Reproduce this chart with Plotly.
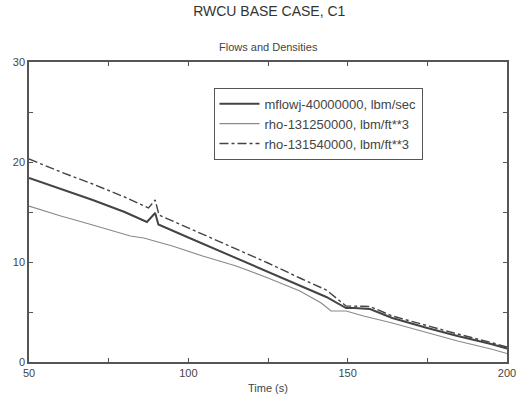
import plotly.graph_objects as go

# Data
t_flow = [50, 60, 70, 80, 87, 89.6, 90.6, 100, 115, 125, 135, 143.3, 149.5, 152, 157, 164, 175, 184.5, 195, 200]
mflow = [18.4, 17.3, 16.2, 15.0, 14.0, 14.9, 13.75, 12.45, 10.4, 9.0, 7.6, 6.5, 5.4, 5.4, 5.3, 4.4, 3.4, 2.6, 1.8, 1.35]

t_rho1 = [50, 60, 70, 81.8, 86, 95, 104.5, 115, 125, 135, 141.7, 144.8, 149.5, 155, 164, 175, 184.5, 195, 200]
rho1 = [15.6, 14.6, 13.7, 12.6, 12.4, 11.6, 10.6, 9.6, 8.4, 7.1, 5.9, 5.1, 5.1, 4.6, 3.9, 2.9, 2.1, 1.3, 0.85]

t_rho2 = [50, 60, 70, 80, 87.5, 89.6, 90.8, 100, 115, 125, 135, 143.3, 149.5, 152, 157, 164, 175, 184.5, 195, 200]
rho2 = [20.3, 19.0, 17.8, 16.5, 15.4, 16.2, 14.7, 13.4, 11.3, 9.9, 8.4, 7.2, 5.6, 5.6, 5.55, 4.6, 3.6, 2.8, 1.95, 1.5]

names = ["mflowj-40000000, lbm/sec", "rho-131250000, lbm/ft**3", "rho-131540000, lbm/ft**3"]

FONT = "Liberation Sans, Arial"

fig = go.Figure()
fig.add_trace(go.Scatter(x=t_flow, y=mflow, mode="lines", name=names[0],
                         line=dict(color="#444", width=2)))
fig.add_trace(go.Scatter(x=t_rho1, y=rho1, mode="lines", name=names[1],
                         line=dict(color="#8a8a8a", width=1.2)))
fig.add_trace(go.Scatter(x=t_rho2, y=rho2, mode="lines", name=names[2],
                         line=dict(color="#444", width=1.4, dash="dashdot")))

axis_common = dict(showline=True, linecolor="#555", linewidth=1.5, mirror="ticks",
                   ticks="inside", ticklen=4, tickcolor="#555", showgrid=False,
                   zeroline=False, tickfont=dict(family=FONT, size=11, color="#444"))

fig.update_layout(
    width=528, height=405,
    margin=dict(l=29, r=15, t=62, b=39),
    paper_bgcolor="white", plot_bgcolor="white",
    title=dict(text="RWCU BASE CASE, C1", x=0.51, xanchor="center", y=0.985, yanchor="top",
               font=dict(family=FONT, size=14, color="#333")),
    annotations=[dict(text="Flows and Densities", xref="paper", yref="paper", x=0.5, y=1.025,
                      xanchor="center", yanchor="bottom", showarrow=False,
                      font=dict(family=FONT, size=11, color="#444"))],
    legend=dict(x=0.386, y=0.914, xanchor="left", yanchor="top",
                bgcolor="white", bordercolor="#555", borderwidth=1,
                font=dict(family=FONT, size=13, color="#444"),
                tracegroupgap=0, itemwidth=40),
    showlegend=True,
)
fig.update_xaxes(range=[50, 200], tickvals=[50, 100, 150, 200],
                 minor=dict(ticks="inside", dtick=25, ticklen=4, tickcolor="#555"),
                 title=dict(text="Time (s)", font=dict(family=FONT, size=11, color="#444"), standoff=6),
                 **axis_common)
fig.update_yaxes(range=[0, 30], tickvals=[0, 10, 20, 30],
                 minor=dict(ticks="inside", dtick=5, ticklen=4, tickcolor="#555"),
                 **axis_common)

fig.write_html("out.html")
